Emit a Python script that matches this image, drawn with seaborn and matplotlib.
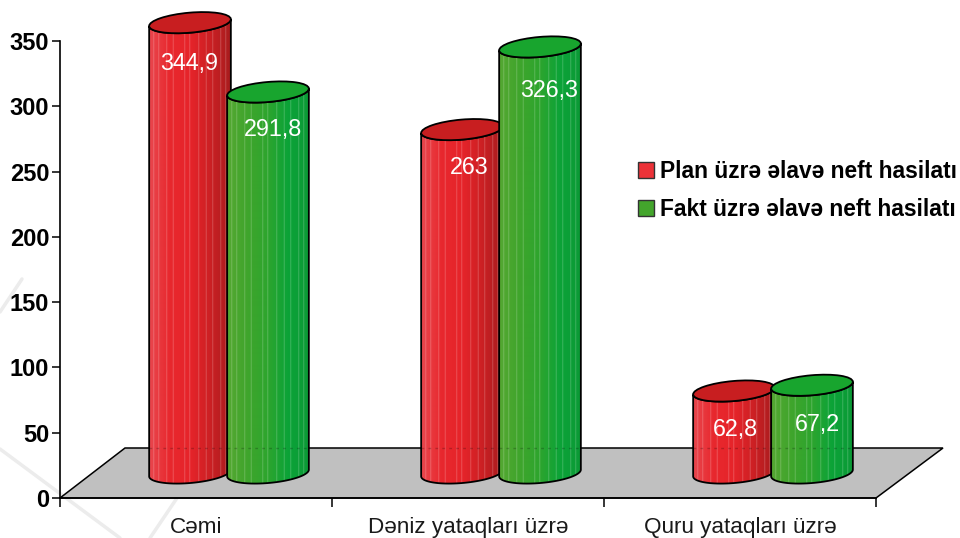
import numpy as np
import pandas as pd
import matplotlib
matplotlib.use("Agg")
import matplotlib.pyplot as plt
import seaborn as sns
from matplotlib.patches import Ellipse, Polygon, Patch
from matplotlib.colors import LinearSegmentedColormap

# Chart data
categories = ["Cəmi", "Dəniz yataqları üzrə", "Quru yataqları üzrə"]
plan_values = [344.9, 263, 62.8]
fact_values = [291.8, 326.3, 67.2]
plan_labels = ["344,9", "263", "62,8"]
fact_labels = ["291,8", "326,3", "67,2"]
series_names = ["Plan üzrə əlavə neft hasilatı", "Fakt üzrə əlavə neft hasilatı"]
y_ticks = [0, 50, 100, 150, 200, 250, 300, 350]

W, H = 960, 538
DEPTH_X, DEPTH_Y = 33, 25  # shift of the bars onto the floor, px
TILT = np.radians(5)
EXTRA = 2  # cylinders are a bit wider than the bar slot
EL_B = 10

sns.set_theme(style="white")
plt.rcParams["font.family"] = ["Liberation Sans", "DejaVu Sans"]

fig = plt.figure(figsize=(W / 100, H / 100), dpi=100)


def axes_px(left, top, right, bottom):
    return [left / W, 1 - bottom / H, (right - left) / W, (bottom - top) / H]


# pixel layer for the floor and the cylinders
px = fig.add_axes([0, 0, 1, 1], zorder=2)
px.set_xlim(0, W)
px.set_ylim(H, 0)
px.axis("off")

# main axis with ticks
ax = fig.add_axes(axes_px(60, 41, 876, 498), zorder=3)
ax.patch.set_alpha(0)
ax.set_xlim(-0.5, 2.5)
ax.set_ylim(0, 350)
ax.set_yticks(y_ticks)
ax.set_yticklabels([str(t) for t in y_ticks], fontsize=17, fontweight="bold", color="black")
ax.set_xticks([-0.5, 0.5, 1.5, 2.5])
ax.set_xticklabels([])
ax.set_xticks([0, 1, 2], minor=True)
ax.set_xticklabels(categories, minor=True, fontsize=16.2, color="#1a1a1a")
ax.tick_params(axis="y", which="major", left=True, length=5.8, width=1.1, color="black", pad=2)
ax.tick_params(axis="x", which="major", bottom=True, length=6.5, width=1.1, color="black")
ax.tick_params(axis="x", which="minor", bottom=False, length=0, pad=14)
for side in ["top", "right"]:
    ax.spines[side].set_visible(False)
for side in ["left", "bottom"]:
    ax.spines[side].set_linewidth(1.2)
    ax.spines[side].set_color("black")

# bars live on their own axes, shifted back by the floor depth
bar_ax = fig.add_axes(axes_px(60 + DEPTH_X, 41 - DEPTH_Y, 876 + DEPTH_X, 498 - DEPTH_Y), zorder=1)
df = pd.DataFrame({
    "cat": categories * 2,
    "value": plan_values + fact_values,
    "series": [series_names[0]] * 3 + [series_names[1]] * 3,
})
sns.barplot(data=df, x="cat", y="value", hue="series", hue_order=series_names, order=categories,
            width=78 * 2 / 272, gap=0, palette=["#e8262c", "#2fa52e"], legend=False, ax=bar_ax)
bar_ax.set_xlim(-0.5, 2.5)
bar_ax.set_ylim(0, 350)
bar_ax.axis("off")
fig.canvas.draw()

# faint watermark strokes behind the chart
for xs, ys in [((0, 120), (449, 538)), ((22, 0), (279, 312)), ((177, 150), (498, 538))]:
    px.plot(xs, ys, color="#ececec", lw=2.5, zorder=0.5, solid_capstyle="round")

# floor
floor = Polygon([(60, 498), (125, 448), (943, 448), (876, 498)], closed=True,
                facecolor="#c0c0c0", edgecolor="black", lw=1.1, zorder=1)
px.add_patch(floor)

red_map = LinearSegmentedColormap.from_list("r", ["#e8474e", "#e8282e", "#e6242a", "#cc2024", "#a81c1e"])
green_map = LinearSegmentedColormap.from_list("g", ["#55a832", "#3fa52c", "#2da52e", "#0ba338", "#0c9a36"])
# thin pale stripes across the body, as fractions of the width
stripes = [0.06, 0.12, 0.22, 0.30, 0.44, 0.50, 0.61, 0.70, 0.78, 0.88, 0.94]


def to_px(x, y):
    p = bar_ax.transData.transform((x, y))
    return p[0], H - p[1]


def ell_point(cx, cy, a, b, t):
    ex, ey = a * np.cos(t), b * np.sin(t)
    return cx + ex * np.cos(TILT) + ey * np.sin(TILT), cy - ex * np.sin(TILT) + ey * np.cos(TILT)


def cylinder(bar, cmap, top_color, z):
    x0, _ = to_px(bar.get_x(), 0)
    x1, y_base = to_px(bar.get_x() + bar.get_width(), 0)
    _, y_top = to_px(bar.get_x(), bar.get_height())
    cx = (x0 + x1) / 2
    a = (x1 - x0) / 2 + EXTRA
    t = np.linspace(np.pi, 0, 60)
    bx, by = ell_point(cx, y_base, a, EL_B, t)
    tx, ty = ell_point(cx, y_top, a, EL_B, t[::-1])
    body = Polygon(np.column_stack([np.r_[bx, tx], np.r_[by, ty]]), closed=True,
                   facecolor="none", edgecolor="black", lw=1.3, zorder=z + 0.2)
    px.add_patch(body)
    grad = np.linspace(0, 1, 164)
    rgba = cmap(grad)
    for s in stripes:
        i = int(s * 163)
        rgba[i:i + 1, :3] = rgba[i:i + 1, :3] * 0.6 + 0.4
    img = px.imshow(rgba[None, :, :], extent=(cx - a, cx + a, y_base + 20, y_top - 20),
                    aspect="auto", zorder=z, interpolation="bilinear")
    img.set_clip_path(body)
    # floor edge shows through the cylinders
    px.plot([cx - a, cx + a], [448, 448], color="black", alpha=0.22, lw=1, ls=(0, (2, 3)), zorder=z + 0.1)
    lid = Ellipse((cx, y_top), 2 * a, 2 * EL_B, angle=-np.degrees(TILT), facecolor=top_color,
                  edgecolor="black", lw=1.3, zorder=z + 0.3)
    px.add_patch(lid)


n = len(categories)
plan_bars = bar_ax.patches[:n]
fact_bars = bar_ax.patches[n:2 * n]
for i in range(n):
    cylinder(plan_bars[i], red_map, "#c81e20", 3 + i)
    cylinder(fact_bars[i], green_map, "#18a52e", 3.5 + i)
px.set_xlim(0, W)
px.set_ylim(H, 0)
px.set_aspect("auto")

# value labels sit below the lid, with the small nudges seen in the picture
plan_nudge = [(-1, 41), (7, 38), (1, 38)]
fact_nudge = [(5, 38), (9, 44), (5, 39)]
for bars, labels, nudge in [(plan_bars, plan_labels, plan_nudge), (fact_bars, fact_labels, fact_nudge)]:
    for bar, lab, (dx, dy) in zip(bars, labels, nudge):
        x, y = to_px(bar.get_x() + bar.get_width() / 2, bar.get_height())
        px.text(x + dx, y + dy, lab, color="white", fontsize=16.8, ha="center", va="center", zorder=10)

handles = [Patch(facecolor="#ec3238", edgecolor="#333333", lw=1),
           Patch(facecolor="#43a52c", edgecolor="#333333", lw=1)]
px.legend(handles, series_names, loc="upper left", bbox_to_anchor=(638 / W, 1 - 160 / H),
          bbox_transform=fig.transFigure, frameon=False, borderpad=0, borderaxespad=0,
          handlelength=0.72, handleheight=0.72, handletextpad=0.25, labelspacing=0.67,
          prop={"size": 16.4, "weight": "bold"}, labelcolor="black")

fig.savefig("out.png", dpi=100)
